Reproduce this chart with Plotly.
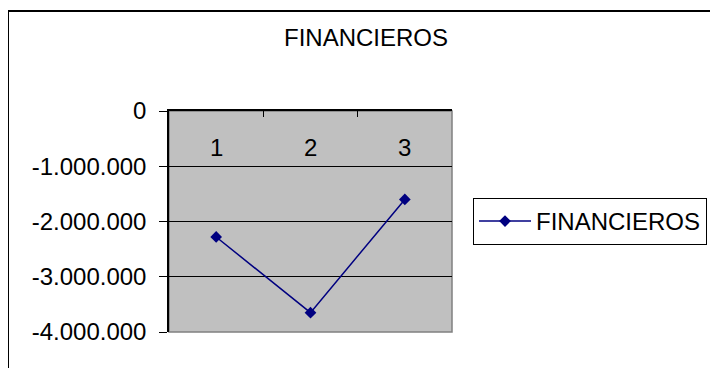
import plotly.graph_objects as go

# data
categories = ["1", "2", "3"]
financieros = [-2280000, -3650000, -1600000]
y_ticks = [0, -1000000, -2000000, -3000000, -4000000]
y_tick_labels = ["0", "-1.000.000", "-2.000.000", "-3.000.000", "-4.000.000"]

# the page puts the figure 8px in from the corner, so work in page pixels
OFF = 8
W, H = 718 - OFF, 368 - OFF
L, R, T, B = 169 - OFF, 718 - 452, 111 - OFF, 368 - 332
pw, ph = W - L - R, H - T - B

def px_x(p):
    return (p - OFF - L) / pw

def px_y(p):
    return (H - B - (p - OFF)) / ph

font = "Liberation Sans, Arial, sans-serif"

fig = go.Figure()
fig.add_trace(go.Scatter(
    x=categories, y=financieros, name="FINANCIEROS",
    mode="lines+markers",
    line=dict(color="#000080", width=1.5),
    marker=dict(symbol="diamond", size=9, color="#000080"),
))

# category labels sit under the top axis, inside the plot
for i, c in enumerate(categories):
    fig.add_annotation(x=i, xref="x", y=px_y(147), yref="paper",
                       text=c, showarrow=False, yanchor="middle",
                       font=dict(size=24, color="black", family=font))

# plot area border (gray) and outer chart border
fig.add_shape(type="rect", xref="paper", yref="paper", x0=0, x1=1, y0=0, y1=1,
              line=dict(color="#808080", width=1.5), layer="below")
fig.add_shape(type="rect", xref="paper", yref="paper",
              x0=px_x(8), x1=px_x(725), y0=px_y(375), y1=px_y(11),
              line=dict(color="black", width=2))

fig.update_layout(
    width=W, height=H,
    margin=dict(l=L, r=R, t=T, b=B, autoexpand=False),
    paper_bgcolor="white",
    plot_bgcolor="#C0C0C0",
    font=dict(family=font, size=24, color="black"),
    title=dict(text="FINANCIEROS", x=(366 - OFF) / W, xanchor="center",
               y=1 - (38 - OFF) / H, yanchor="middle",
               font=dict(size=24, color="black", family=font)),
    showlegend=True,
    legend=dict(x=px_x(473), xanchor="left", y=px_y(198), yanchor="top",
                bgcolor="white", bordercolor="black", borderwidth=1,
                itemwidth=52,
                font=dict(size=24, color="black", family=font)),
)
fig.update_xaxes(type="category", range=[-0.5, 2.5], side="top",
                 showline=True, linecolor="black", linewidth=1.5,
                 ticks="inside", tickson="boundaries", ticklen=6,
                 tickcolor="black", showticklabels=False, showgrid=False,
                 zeroline=False)
fig.update_yaxes(range=[-4000000, 0], tickvals=y_ticks, ticktext=y_tick_labels,
                 showline=True, linecolor="black", linewidth=1.5,
                 ticks="outside", ticklen=8, tickcolor="black",
                 showgrid=True, gridcolor="black", gridwidth=1,
                 zeroline=False, ticklabelstandoff=8,
                 tickfont=dict(size=24, color="black", family=font))

fig.write_html("out.html")
